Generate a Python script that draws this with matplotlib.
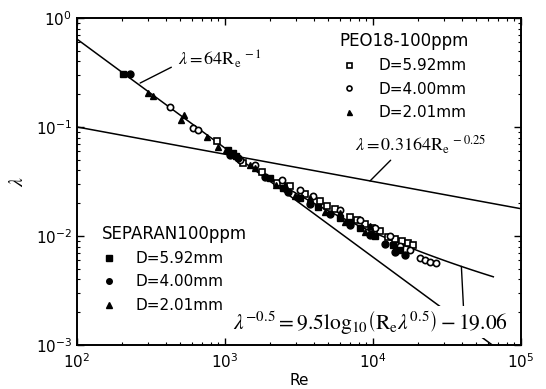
import numpy as np
import matplotlib
matplotlib.use("Agg")
import matplotlib.pyplot as plt

plt.rcParams['mathtext.fontset'] = 'stix'
plt.rcParams['font.family'] = ['DejaVu Sans']

# ---------- Data ----------
# PEO18-100ppm (open symbols)
peo_sq_re = [883, 1323, 1778, 2244, 2750, 3475, 4385, 4890, 5535, 6995, 7800, 8830, 9850,
             11150, 12630, 14080, 15700, 17230, 18630]
peo_sq_lam = [0.0744, 0.0468, 0.0387, 0.0306, 0.0288, 0.0243, 0.0210, 0.0188, 0.0177, 0.0149,
              0.0140, 0.0129, 0.0118, 0.0111, 0.0098, 0.0094, 0.0090, 0.0086, 0.0083]
peo_ci_re = [425, 608, 658, 1262, 1596, 2427, 3213, 3933, 5985, 8170, 10320, 13030, 15220,
             17780, 20770, 22450, 24270, 26660]
peo_ci_lam = [0.153, 0.098, 0.094, 0.0498, 0.0448, 0.0327, 0.0264, 0.0233, 0.0173, 0.0140,
              0.0118, 0.0100, 0.0081, 0.0074, 0.0063, 0.0060, 0.0058, 0.0057]
peo_tr_re = [1476, 2543, 3750, 5985, 9550]
peo_tr_lam = [0.0448, 0.0294, 0.0223, 0.0163, 0.0124]

# SEPARAN100ppm (filled symbols)
sep_sq_re = [205, 1048, 1132, 1186, 2013, 2465, 3213, 4250, 5985, 6995, 8170, 10320, 13650, 15220]
sep_sq_lam = [0.306, 0.0615, 0.0577, 0.0542, 0.0341, 0.0275, 0.0223, 0.0185, 0.0146, 0.0134,
              0.0118, 0.0100, 0.0083, 0.0074]
sep_ci_re = [228, 1081, 1224, 1862, 2665, 3750, 5120, 6995, 9550, 12050, 14080, 16450]
sep_ci_lam = [0.306, 0.0553, 0.0520, 0.0348, 0.0253, 0.0197, 0.0159, 0.0126, 0.0102, 0.0084,
              0.0071, 0.0067]
sep_tr_re = [302, 326, 504, 528, 756, 897, 1016, 1596, 2213, 2972, 4740, 6470, 8830]
sep_tr_lam = [0.205, 0.192, 0.116, 0.129, 0.081, 0.0656, 0.0615, 0.0421, 0.0294, 0.0233,
              0.0166, 0.0134, 0.0109]

# ---------- Reference curves ----------
re_lam = np.logspace(2, np.log10(64000), 50)
lam_lam = 64.0 / re_lam

re_bla = np.logspace(2, 5, 50)
lam_bla = 0.3164 * re_bla ** -0.25

re_virk = np.logspace(np.log10(2500), np.log10(65000), 60)
lam_virk = np.full_like(re_virk, 0.02)
for _ in range(200):
    lam_virk = 1.0 / (9.5 * np.log10(re_virk * np.sqrt(lam_virk)) - 19.06) ** 2

# ---------- Plot ----------
fig = plt.figure(figsize=(5.46, 3.89), dpi=100)
ax = fig.add_axes([77 / 546, 1 - 345 / 389, 444 / 546, 327 / 389])

ax.plot(re_lam, lam_lam, color='black', lw=1.1, zorder=2)
ax.plot(re_bla, lam_bla, color='black', lw=1.1, zorder=2)
ax.plot(re_virk, lam_virk, color='black', lw=1.1, zorder=2)

ms = 4.5
h1 = ax.plot(peo_sq_re, peo_sq_lam, 's', ms=ms, mfc='white', mec='black', mew=1.2, ls='none', zorder=3)[0]
h2 = ax.plot(peo_ci_re, peo_ci_lam, 'o', ms=ms, mfc='white', mec='black', mew=1.2, ls='none', zorder=3)[0]
h3 = ax.plot(peo_tr_re, peo_tr_lam, '^', ms=ms, color='black', ls='none', zorder=3)[0]
h4 = ax.plot(sep_sq_re, sep_sq_lam, 's', ms=ms + 0.5, color='black', ls='none', zorder=3)[0]
h5 = ax.plot(sep_ci_re, sep_ci_lam, 'o', ms=ms + 0.5, color='black', ls='none', zorder=3)[0]
h6 = ax.plot(sep_tr_re, sep_tr_lam, '^', ms=ms + 0.5, color='black', ls='none', zorder=3)[0]

ax.set_xscale('log')
ax.set_yscale('log')
ax.set_xlim(1e2, 1e5)
ax.set_ylim(1e-3, 1e0)

ax.tick_params(which='both', direction='in', top=True, right=True, labelsize=11)
ax.tick_params(which='major', length=5, width=1)
ax.tick_params(which='minor', length=2.5, width=0.8)
ax.tick_params(axis='x', which='major', pad=5)
for s in ax.spines.values():
    s.set_linewidth(1.4)

ax.set_xlabel('Re', fontsize=11, labelpad=2)
ax.set_ylabel(r'$\lambda$', fontsize=14, labelpad=6)

# ---------- Annotations ----------
ax.annotate(r'$\lambda = 64\mathrm{R_e}^{\,-1}$', xy=(267, 0.253), xytext=(480, 0.415),
            fontsize=13, ha='left', va='center',
            arrowprops=dict(arrowstyle='-', color='black', lw=1, relpos=(0, 0.3),
                            shrinkA=3, shrinkB=0))
ax.annotate(r'$\lambda = 0.3164\mathrm{R_e}^{\,-0.25}$', xy=(9550, 0.032), xytext=(7550, 0.068),
            fontsize=13, ha='left', va='center',
            arrowprops=dict(arrowstyle='-', color='black', lw=1, relpos=(0.3, 0),
                            shrinkA=1, shrinkB=0))
i_v = np.argmin(np.abs(re_virk - 40000))
ax.annotate(r'$\lambda^{-0.5} = 9.5\mathrm{log}_{10}\left(\mathrm{R_e}\lambda^{0.5}\right) - 19.06$',
            xy=(re_virk[i_v], lam_virk[i_v]), xytext=(9550, 0.00163),
            fontsize=15.5, ha='center', va='center',
            bbox=dict(boxstyle='square,pad=0.1', fc='white', ec='none'),
            arrowprops=dict(arrowstyle='-', color='black', lw=1, relpos=(0.84, 1),
                            shrinkA=0, shrinkB=0), zorder=4)

# ---------- Legends ----------
leg1 = ax.legend([h1, h2, h3], ['D=5.92mm', 'D=4.00mm', 'D=2.01mm'],
                 title='PEO18-100ppm', loc='upper left', bbox_to_anchor=(0.56, 1.0),
                 frameon=False, fontsize=11, title_fontsize=12, handlelength=1.0,
                 handletextpad=1.4, labelspacing=0.55, markerscale=0.8)
ax.add_artist(leg1)
ax.legend([h4, h5, h6], ['D=5.92mm', 'D=4.00mm', 'D=2.01mm'],
          title='SEPARAN100ppm', loc='upper left', bbox_to_anchor=(0.025, 0.41),
          frameon=False, fontsize=11, title_fontsize=12, handlelength=1.0,
          handletextpad=1.2, labelspacing=0.55, markerscale=0.8, alignment='left')

fig.savefig('out.png', dpi=100)
